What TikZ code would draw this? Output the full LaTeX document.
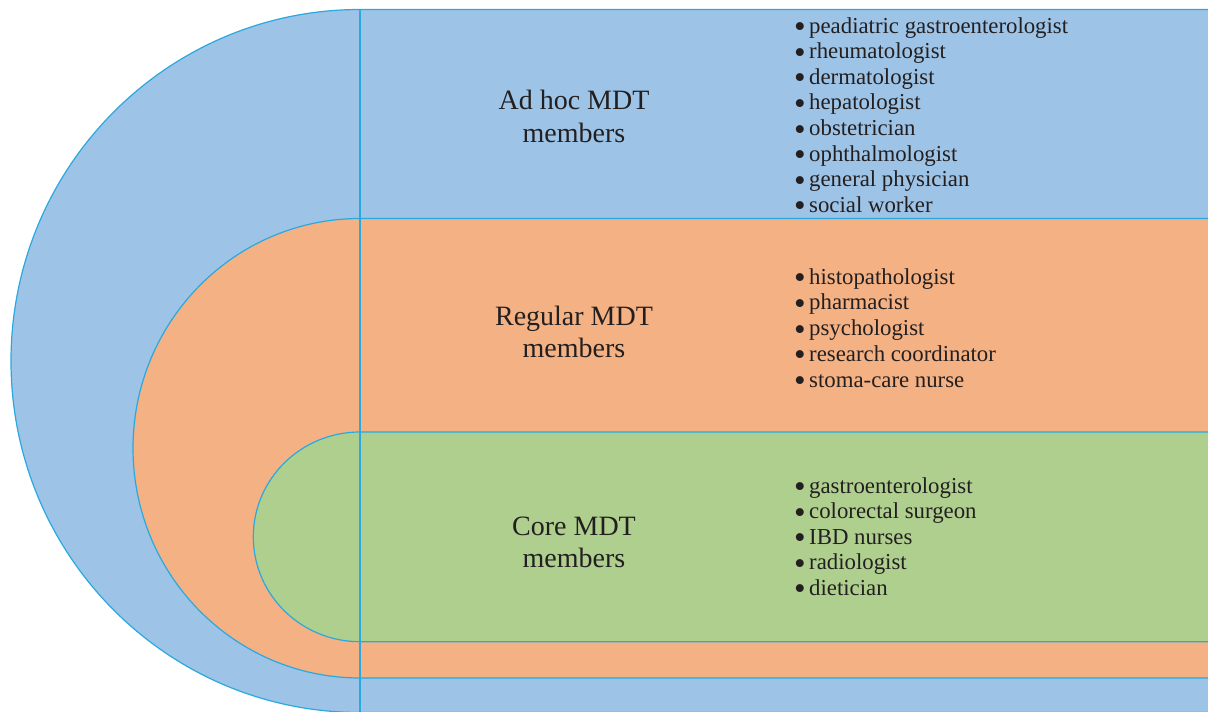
\documentclass[tikz,border=0pt]{standalone}
\usepackage{fontspec}
\setmainfont{Liberation Serif}

\definecolor{adhocblue}{HTML}{9DC3E6}
\definecolor{regorange}{HTML}{F4B183}
\definecolor{coregreen}{HTML}{AFCF8E}
\definecolor{edgecyan}{HTML}{29A9E0}
\definecolor{inkgrey}{HTML}{231F20}

\newcommand{\dotmark}{\makebox[15pt][l]{\raisebox{-4.6pt}[0pt][0pt]{\scalebox{1.45}{•}}}}

\tikzset{
  band/.style={draw=edgecyan,line width=1.2pt},
  grouptitle/.style={anchor=base,inner sep=0pt,text=inkgrey,font=\fontsize{28}{32}\selectfont},
  member/.style={anchor=base west,inner sep=0pt,text=inkgrey,font=\fontsize{22.8}{25}\selectfont},
}

\begin{document}
\begin{tikzpicture}[x=1pt,y=-1pt]

\useasboundingbox (0,0) rectangle (1208,712) ;

% ad hoc band
\fill[adhocblue] (1208,9.5) -- (360,9.5)
  arc[start angle=270,end angle=90,x radius=349,y radius=351.5] -- (1208,712.5) -- cycle ;
\draw[band] (1208,9.5) -- (360,9.5)
  arc[start angle=270,end angle=90,x radius=349,y radius=351.5] -- (1208,712.5) ;

% regular band
\fill[regorange] (1208,218.5) -- (360,218.5)
  arc[start angle=270,end angle=90,x radius=227,y radius=229.75] -- (1208,678) -- cycle ;
\draw[band] (1208,218.5) -- (360,218.5)
  arc[start angle=270,end angle=90,x radius=227,y radius=229.75] -- (1208,678) ;

% core band
\fill[coregreen] (1208,432) -- (360,432)
  arc[start angle=270,end angle=90,x radius=106.7,y radius=104.85] -- (1208,641.7) -- cycle ;
\draw[band] (1208,432) -- (360,432)
  arc[start angle=270,end angle=90,x radius=106.7,y radius=104.85] -- (1208,641.7) ;

\coordinate (divtop) at (360,9.5) ;
\coordinate (divbot) at (360,712) ;
\draw[band] (divtop) -- (divbot) ;

% titles
\node[grouptitle] (adhocA) at (574,109) {Ad hoc MDT} ;
\node[grouptitle] (adhocB) at (574,142) {members} ;
\node[grouptitle] (regularA) at (574,325) {Regular MDT} ;
\node[grouptitle] (regularB) at (574,357) {members} ;
\node[grouptitle] (coreA) at (574,535) {Core MDT} ;
\node[grouptitle] (coreB) at (574,567) {members} ;

% member lists
\foreach \who [count=\i] in {peadiatric gastroenterologist,rheumatologist,dermatologist,
    hepatologist,obstetrician,ophthalmologist,general physician,social worker}
  \node[member] (adhoc\i) at (794,{33+25.6*(\i-1)}) {\dotmark\who} ;

\foreach \who [count=\i] in {histopathologist,pharmacist,psychologist,
    research coordinator,stoma-care nurse}
  \node[member] (regular\i) at (794,{284+25.75*(\i-1)}) {\dotmark\who} ;

\foreach \who [count=\i] in {gastroenterologist,colorectal surgeon,IBD nurses,
    radiologist,dietician}
  \node[member] (core\i) at (794,{493+25.5*(\i-1)}) {\dotmark\who} ;

\end{tikzpicture}
\end{document}
